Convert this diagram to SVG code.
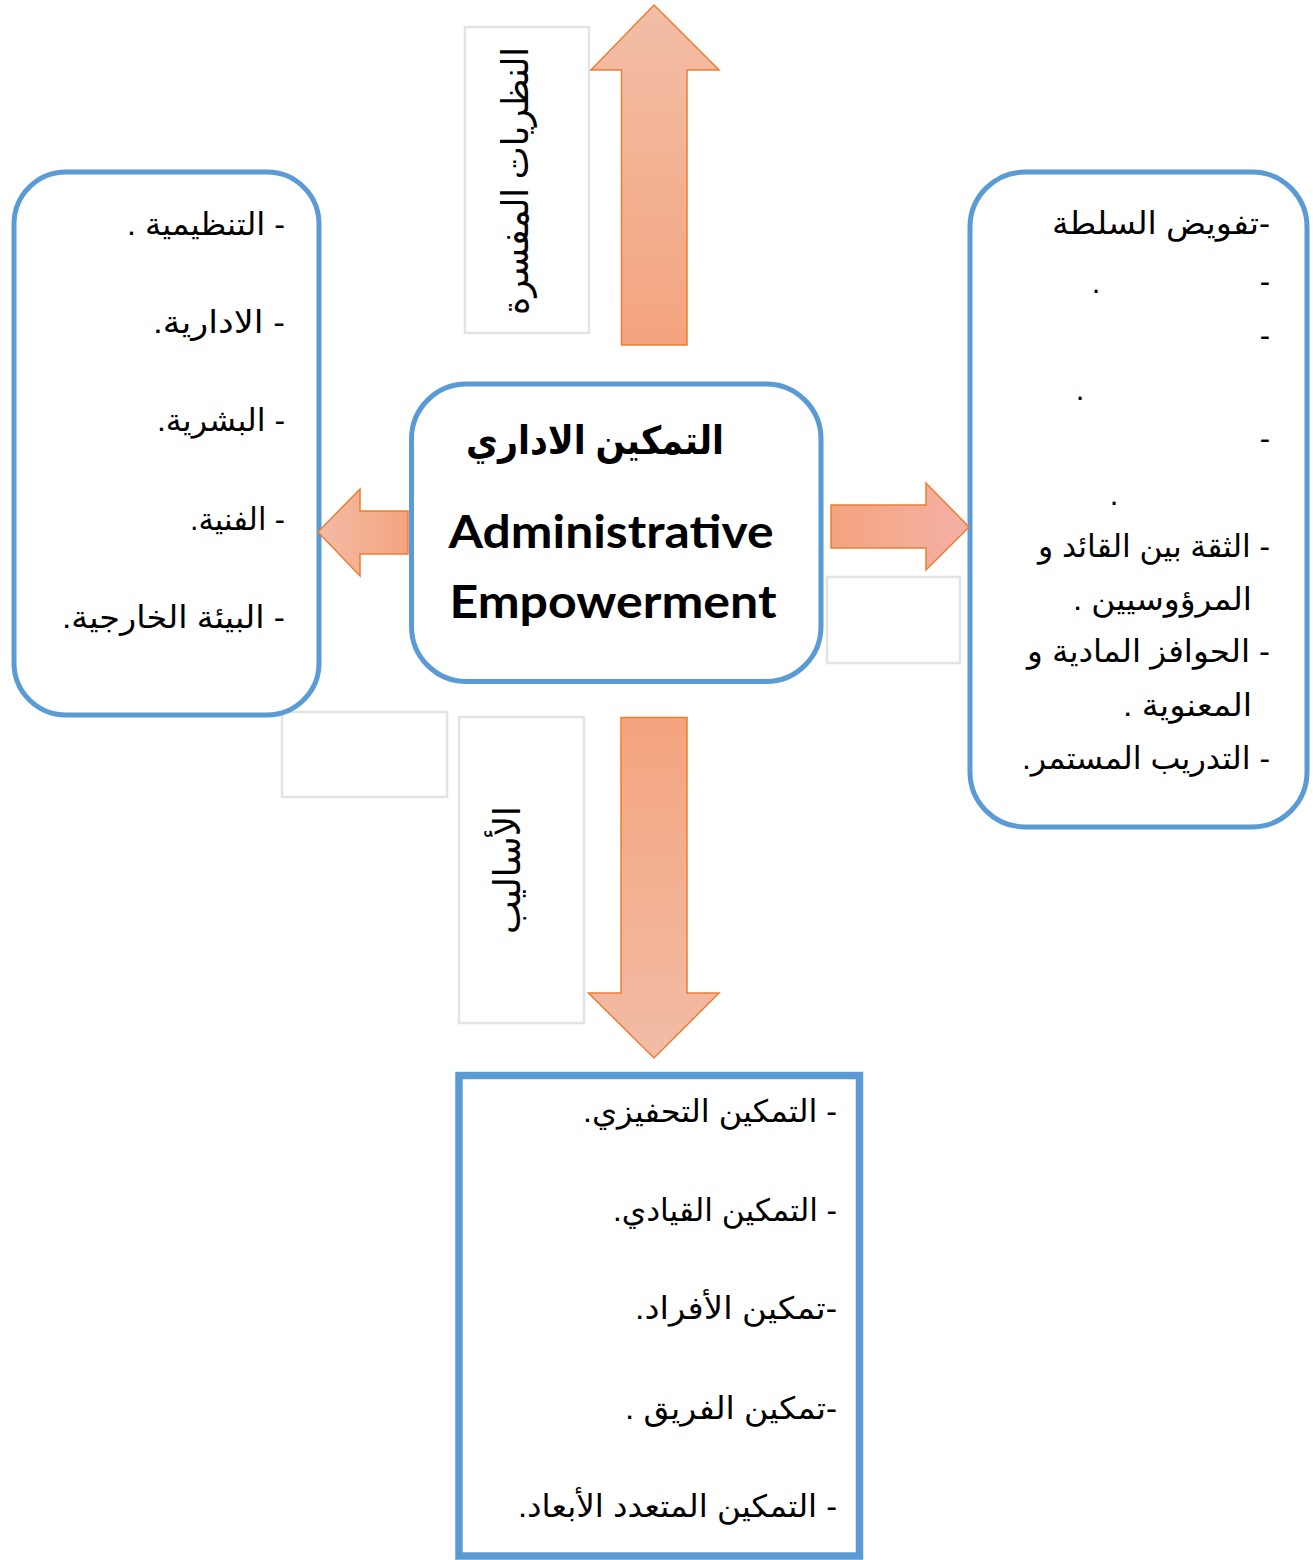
<svg xmlns="http://www.w3.org/2000/svg" width="1313" height="1560" viewBox="0 0 1313 1560">
  <style>
    .box { fill: #ffffff; stroke: #5b9bd5; stroke-width: 5; }
    .sq { fill: #ffffff; stroke: #5b9bd5; stroke-width: 7.5; }
    .ghost { fill: #ffffff; stroke: #e3e3e3; stroke-width: 2.5; }
    .arrow { stroke: #ed7d31; stroke-width: 1.5; stroke-linejoin: miter; }
    .ar { font-family: "Liberation Sans", "DejaVu Sans", sans-serif; font-size: 31px; fill: #000000; direction: rtl; }
    .lbl { font-family: "Liberation Serif", "DejaVu Sans", serif; font-size: 37px; fill: #000000; direction: rtl; }
    .title-ar { font-family: "Liberation Sans", "DejaVu Sans", sans-serif; font-size: 39px; font-weight: bold; fill: #000000; direction: rtl; }
    .title-en { font-family: Lato, "Open Sans", sans-serif; font-size: 46px; font-weight: bold; fill: #000000; }
  </style>
  <defs>
    <linearGradient id="gUp" x1="0" y1="1" x2="0" y2="0">
      <stop offset="0" stop-color="#f4a47e"/>
      <stop offset="1" stop-color="#f2bea7"/>
    </linearGradient>
    <linearGradient id="gDown" x1="0" y1="0" x2="0" y2="1">
      <stop offset="0" stop-color="#f4a47e"/>
      <stop offset="1" stop-color="#f2bca6"/>
    </linearGradient>
    <linearGradient id="gLeft" x1="1" y1="0" x2="0" y2="0">
      <stop offset="0" stop-color="#f4a47e"/>
      <stop offset="1" stop-color="#f3bba6"/>
    </linearGradient>
    <linearGradient id="gRight" x1="0" y1="0" x2="1" y2="0">
      <stop offset="0" stop-color="#f4a47e"/>
      <stop offset="1" stop-color="#f5b0a6"/>
    </linearGradient>
  </defs>

  <!-- empty placeholder frames -->
  <g id="frame-left">
    <rect class="ghost" x="282" y="712" width="165" height="85"/>
  </g>
  <g id="frame-right">
    <rect class="ghost" x="827" y="577" width="133" height="86"/>
  </g>

  <!-- label: theories -->
  <g id="label-theories">
    <rect class="ghost" x="465" y="27" width="124" height="306"/>
    <text class="lbl" transform="translate(528,181) rotate(-90)" text-anchor="middle" textLength="268" lengthAdjust="spacingAndGlyphs">النظريات المفسرة</text>
  </g>

  <!-- label: methods -->
  <g id="label-methods">
    <rect class="ghost" x="459" y="717" width="125" height="306"/>
    <text class="lbl" transform="translate(520,870) rotate(-90)" text-anchor="middle" textLength="128" lengthAdjust="spacingAndGlyphs">الأساليب</text>
  </g>

  <!-- left node: dimensions -->
  <g id="node-dimensions">
    <rect class="box" x="14" y="172" width="305" height="543" rx="52"/>
    <text class="ar" x="285" y="235" text-anchor="start" textLength="158" lengthAdjust="spacingAndGlyphs">- التنظيمية .</text>
    <text class="ar" x="285" y="333" text-anchor="start" textLength="132" lengthAdjust="spacingAndGlyphs">- الادارية.</text>
    <text class="ar" x="285" y="431" text-anchor="start" textLength="128" lengthAdjust="spacingAndGlyphs">- البشرية.</text>
    <text class="ar" x="285" y="530" text-anchor="start" textLength="95" lengthAdjust="spacingAndGlyphs">- الفنية.</text>
    <text class="ar" x="285" y="628" text-anchor="start" textLength="223" lengthAdjust="spacingAndGlyphs">- البيئة الخارجية.</text>
  </g>

  <!-- right node: requirements -->
  <g id="node-requirements">
    <rect class="box" x="970" y="172" width="337" height="655" rx="55"/>
    <text class="ar" x="1270" y="234" text-anchor="start" textLength="218" lengthAdjust="spacingAndGlyphs">-تفويض السلطة</text>
    <text class="ar" x="1270" y="292" text-anchor="start">-</text>
    <text class="ar" x="1096" y="293" text-anchor="middle">.</text>
    <text class="ar" x="1270" y="346" text-anchor="start">-</text>
    <text class="ar" x="1080" y="400" text-anchor="middle">.</text>
    <text class="ar" x="1270" y="449" text-anchor="start">-</text>
    <text class="ar" x="1114" y="505" text-anchor="middle">.</text>
    <text class="ar" x="1270" y="557" text-anchor="start" textLength="232" lengthAdjust="spacingAndGlyphs">- الثقة بين القائد و</text>
    <text class="ar" x="1252" y="610" text-anchor="start" textLength="179" lengthAdjust="spacingAndGlyphs">المرؤوسيين .</text>
    <text class="ar" x="1270" y="662" text-anchor="start" textLength="243" lengthAdjust="spacingAndGlyphs">- الحوافز المادية و</text>
    <text class="ar" x="1252" y="716" text-anchor="start" textLength="129" lengthAdjust="spacingAndGlyphs">المعنوية .</text>
    <text class="ar" x="1270" y="769" text-anchor="start" textLength="248" lengthAdjust="spacingAndGlyphs">- التدريب المستمر.</text>
  </g>

  <!-- central node -->
  <g id="node-center">
    <rect class="box" x="411.5" y="384" width="409.5" height="297.5" rx="55"/>
    <text class="title-ar" x="595" y="454" text-anchor="middle" textLength="258" lengthAdjust="spacingAndGlyphs">التمكين الاداري</text>
    <text class="title-en" x="611" y="548" text-anchor="middle" textLength="325" lengthAdjust="spacingAndGlyphs">Administrative</text>
    <text class="title-en" x="613" y="618" text-anchor="middle" textLength="327" lengthAdjust="spacingAndGlyphs">Empowerment</text>
  </g>

  <!-- bottom node: empowerment types -->
  <g id="node-types">
    <rect class="sq" x="459" y="1075.5" width="400.5" height="480.5"/>
    <text class="ar" x="837" y="1122" text-anchor="start" textLength="254" lengthAdjust="spacingAndGlyphs">- التمكين التحفيزي.</text>
    <text class="ar" x="837" y="1221" text-anchor="start" textLength="224" lengthAdjust="spacingAndGlyphs">- التمكين القيادي.</text>
    <text class="ar" x="837" y="1319" text-anchor="start" textLength="202" lengthAdjust="spacingAndGlyphs">-تمكين الأفراد.</text>
    <text class="ar" x="837" y="1419" text-anchor="start" textLength="212" lengthAdjust="spacingAndGlyphs">-تمكين الفريق .</text>
    <text class="ar" x="837" y="1517" text-anchor="start" textLength="319" lengthAdjust="spacingAndGlyphs">- التمكين المتعدد الأبعاد.</text>
  </g>

  <!-- block arrows -->
  <g id="connectors">
    <polygon class="arrow" fill="url(#gUp)" points="654,5 719,70 687,70 687,345 621.5,345 621.5,70 591,70"/>
    <polygon class="arrow" fill="url(#gDown)" points="621,717.5 687,717.5 687,993 719,993 654,1058 588.5,993 621,993"/>
    <polygon class="arrow" fill="url(#gLeft)" points="318,532 360,489 360,511 408,511 408,554 360,554 360,576"/>
    <polygon class="arrow" fill="url(#gRight)" points="831,505 926,505 926,483 969,527 926,570 926,548 831,548"/>
  </g>
</svg>
